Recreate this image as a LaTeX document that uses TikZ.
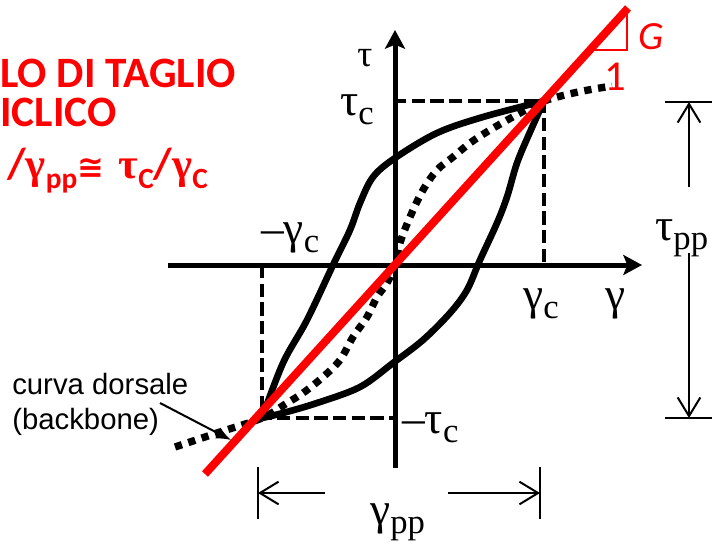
\documentclass[tikz,border=0pt]{standalone}
\usepackage{fontspec}
\setmainfont{Liberation Serif}
\newfontfamily\titlefont{Carlito}
\newfontfamily\grkfont{Liberation Serif}
\newfontfamily\labfont{Liberation Sans}
\newfontfamily\symfont{DejaVu Sans}
\usepackage{tikz}
\usetikzlibrary{arrows.meta}
\definecolor{pptred}{RGB}{255,0,0}
\newcommand{\Gsub}[2]{{\grkfont\fontsize{34}{34}\selectfont #1}\lower7pt\hbox{\grkfont\fontsize{26}{26}\selectfont #2}}
\newcommand{\Tsub}[2]{{\grkfont\bfseries\fontsize{32}{32}\selectfont #1}\lower8pt\hbox{\titlefont\bfseries\fontsize{22}{22}\selectfont #2}}

\begin{document}
\begin{tikzpicture}[x=0.75pt, y=-0.75pt,
    axis/.style={line width=3.75pt, -{Stealth[length=14pt,width=15pt,inset=3pt]}},
    loop/.style={line width=5pt, line join=round},
    backbone/.style={line width=5.5pt, dash pattern=on 5.5pt off 5pt},
    guide/.style={line width=2.5pt, dash pattern=on 10pt off 4pt},
    dim/.style={line width=1.5pt},
    dimarrow/.style={line width=1.5pt, -{Straight Barb[length=14pt,width=17pt]}},
    lab/.style={inner sep=0pt, anchor=base west},
    title/.style={inner sep=0pt, anchor=base west, text=pptred, font=\titlefont\bfseries\fontsize{32.5}{32.5}\selectfont}]
    \useasboundingbox (0,0) rectangle (712,553);
    \clip (0,0) rectangle (712,553);

    % points of the loop
    \coordinate (O) at (395,265);
    \coordinate (T) at (544,101);
    \coordinate (B) at (262,418);

    % axes
    \coordinate (xl) at (168,265);
    \coordinate (xr) at (642,265);
    \coordinate (yb) at (395,468);
    \coordinate (yt) at (395,30);
    \draw[axis] (xl) -- (xr);
    \draw[axis] (yb) -- (yt);

    % dashed guides
    \draw[guide] (393,101) -- (T) -- (544,265);
    \draw[guide] (262,265) -- (B) -- (395,418);

    % hysteresis loop
    \draw[loop] plot[smooth, tension=0.55] coordinates {(262,418) (283,363) (307,320) (333,265) (350,230) (360,203) (373,177) (395,158) (437,133) (483,117) (544,101)};
    \draw[loop] plot[smooth, tension=0.55] coordinates {(544,101) (530,132) (517,163) (507,197) (497,223) (480,260) (467,290) (450,313) (423,340) (393,363) (360,387) (317,403) (283,413) (262,418)};

    % backbone curve
    \draw[backbone] plot[smooth, tension=0.55] coordinates {(175,447) (220,432) (262,418) (287,403) (303,393) (323,377) (340,360) (353,337) (367,317) (377,297) (387,283) (395,265) (400,243) (410,217) (423,190) (437,170) (453,157) (470,143) (490,130) (520,113) (544,101) (578,92) (612,86)};

    % secant modulus
    \coordinate (rl) at (205,474);
    \coordinate (rt) at (628,8);
    \draw[pptred, line width=6pt] (rl) -- (rt);
    \draw[pptred, line width=2.2pt] (627,12) -- (627,50) -- (591,50);
    \node[inner sep=0pt, text=pptred, font=\titlefont\itshape\fontsize{30}{30}\selectfont] (G) at (651,37) {G};
    \node[inner sep=0pt, text=pptred, font=\titlefont\fontsize{32}{32}\selectfont] (one) at (615,77) {1};

    % axis labels
    \node[lab] (tau) at (357,66) {{\grkfont\fontsize{28}{28}\selectfont τ}};
    \node[lab] (tauc) at (340,115) {\Gsub{τ}{c}};
    \node[lab] (mgamc) at (261,243) {\Gsub{–γ}{c}};
    \node[lab] (gamc) at (523,309) {\Gsub{γ}{c}};
    \node[lab] (gam) at (605,309) {{\grkfont\fontsize{34}{34}\selectfont γ}};
    \node[lab] (mtauc) at (402,433) {\Gsub{–τ}{c}};

    % gamma_pp dimension
    \draw[dim] (258,467) -- (258,519);
    \draw[dim] (540,467) -- (540,519);
    \coordinate (gpl) at (325,493);
    \coordinate (gpr) at (448,493);
    \draw[dimarrow] (gpl) -- (258,493);
    \draw[dimarrow] (gpr) -- (540,493);
    \node[lab] (gampp) at (370,524) {\Gsub{γ}{pp}};

    % tau_pp dimension
    \draw[dim] (665,102) -- (712,102);
    \draw[dim] (665,418) -- (712,418);
    \coordinate (tpu) at (689,187);
    \coordinate (tpd) at (689,253);
    \draw[dimarrow] (tpu) -- (689,102);
    \draw[dimarrow] (tpd) -- (689,418);
    \node[lab] (taupp) at (655,240) {\Gsub{τ}{pp}};

    % backbone label
    \node[inner sep=0pt, anchor=north west, align=left, font=\labfont\fontsize{22}{26}\selectfont] (bblab) at (12,373) {curva dorsale\\(backbone)};
    \coordinate (bbstart) at (160,403);
    \coordinate (bbtip) at (231,440);
    \draw[line width=1.5pt, -{Latex[length=11pt,width=9pt]}] (bbstart) -- (bbtip);

    % title
    \node[title] (t1) at (0,87) {LO DI TAGLIO};
    \node[title] (t2) at (0,126) {ICLICO};
    \node[title] (t3) at (7,178) {/\Tsub{γ}{pp}{\symfont\bfseries\fontsize{24}{24}\selectfont ≅}\,\,\Tsub{τ}{C}/\Tsub{γ}{C}};
\end{tikzpicture}
\end{document}
